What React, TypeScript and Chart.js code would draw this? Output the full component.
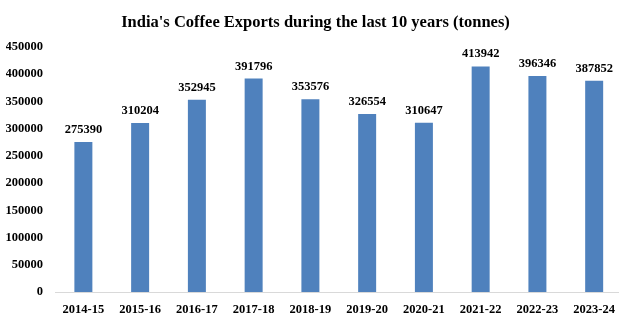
import React, { useEffect, useRef } from "react";
import { Chart, registerables } from "chart.js";

Chart.register(...registerables);

const categories = ["2014-15", "2015-16", "2016-17", "2017-18", "2018-19", "2019-20", "2020-21", "2021-22", "2022-23", "2023-24"];
const exportsTonnes = [275390, 310204, 352945, 391796, 353576, 326554, 310647, 413942, 396346, 387852];
const yTicks = [0, 50000, 100000, 150000, 200000, 250000, 300000, 350000, 400000, 450000];

const FONT = "'Liberation Serif', 'Times New Roman', serif";

const dataLabelPlugin = {
  id: "dataLabels",
  afterDatasetsDraw(chart: any) {
    const ctx = chart.ctx;
    const meta = chart.getDatasetMeta(0);
    ctx.save();
    ctx.font = `bold 12.5px ${FONT}`;
    ctx.fillStyle = "#000";
    ctx.textAlign = "center";
    ctx.textBaseline = "alphabetic";
    meta.data.forEach((el: any, i: number) => {
      ctx.fillText(String(exportsTonnes[i]), el.x, el.y - 9);
    });
    ctx.restore();
  },
};

export default function App() {
  const ref = useRef<HTMLCanvasElement>(null);
  useEffect(() => {
    if (!ref.current) return;
    const chart = new Chart(ref.current, {
      type: "bar",
      data: {
        labels: categories,
        datasets: [
          {
            data: exportsTonnes,
            backgroundColor: "#4F81BD",
            barPercentage: 0.317,
            categoryPercentage: 1,
          },
        ],
      },
      options: {
        animation: false,
        responsive: false,
        layout: { padding: { left: 6, right: 0, top: 0, bottom: 0 } },
        plugins: {
          legend: { display: false },
          tooltip: { enabled: false },
          title: {
            display: true,
            text: "India's Coffee Exports during the last 10 years (tonnes)",
            font: { family: FONT, size: 16.5, weight: "bold", lineHeight: 1.2 },
            color: "#000",
            padding: { top: 13, bottom: 14 },
          },
        },
        scales: {
          x: {
            grid: { display: false, drawTicks: false },
            border: { display: true, color: "#D9D9D9", width: 1 },
            afterFit: (axis: any) => {
              axis.height = 23;
            },
            ticks: {
              font: { family: FONT, size: 12.5, weight: "bold" },
              color: "#000",
              padding: 10,
              maxRotation: 0,
            },
          },
          y: {
            min: 0,
            max: 450000,
            afterBuildTicks: (axis: any) => {
              axis.ticks = yTicks.map((v) => ({ value: v }));
            },
            afterFit: (axis: any) => {
              axis.width = 49;
            },
            grid: { display: false, drawTicks: false },
            border: { display: false },
            ticks: {
              font: { family: FONT, size: 12.5, weight: "bold" },
              color: "#000",
              padding: 12,
              callback: (v: any) => String(v),
            },
          },
        },
      },
      plugins: [dataLabelPlugin],
    });
    return () => chart.destroy();
  }, []);
  return (
    <div style={{ position: "fixed", left: 0, top: 0, width: 619, height: 315, overflow: "hidden", background: "#fff" }}>
      <canvas ref={ref} width={625} height={315} />
    </div>
  );
}
